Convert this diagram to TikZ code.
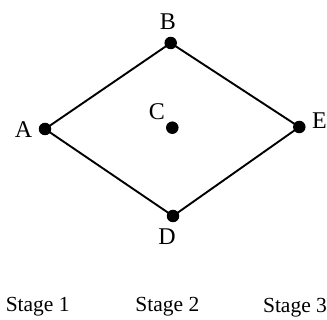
\documentclass[tikz,border=0pt]{standalone}
\usepackage{fontspec}
\setmainfont{Liberation Serif}
\begin{document}
\begin{tikzpicture}[x=1pt,y=-1pt,
  dot/.style={circle,fill=black,inner sep=0pt,minimum size=12.5pt},
  lbl/.style={anchor=base,inner sep=0pt,font=\fontsize{21.5}{24}\selectfont},
  vlbl/.style={anchor=base,inner sep=0pt,font=\fontsize{24}{27}\selectfont},
  edge/.style={line width=1.9pt}]
\useasboundingbox (0,0) rectangle (327,320);
% vertices
\node[dot] (A) at (45,129) {};
\node[dot] (B) at (170.7,43) {};
\node[dot] (C) at (172.3,127.7) {};
\node[dot] (D) at (173,216) {};
\node[dot] (E) at (299.3,127) {};
% vertex labels
\node[vlbl] (lA) at (23.5,137.8) {A};
\node[vlbl] (lB) at (168,29.5) {B};
\node[vlbl] (lC) at (157,120) {C};
\node[vlbl] (lD) at (167,244.3) {D};
\node[vlbl] (lE) at (319.5,128.3) {E};
% edges
\draw[edge] (A.center) -- (B.center) -- (E.center) -- (D.center) -- (A.center);
% stage captions
\node[lbl] (s1) at (37.7,311.5) {Stage 1};
\node[lbl] (s2) at (167.3,311.5) {Stage 2};
\node[lbl] (s3) at (295,312.5) {Stage 3};
\end{tikzpicture}
\end{document}
